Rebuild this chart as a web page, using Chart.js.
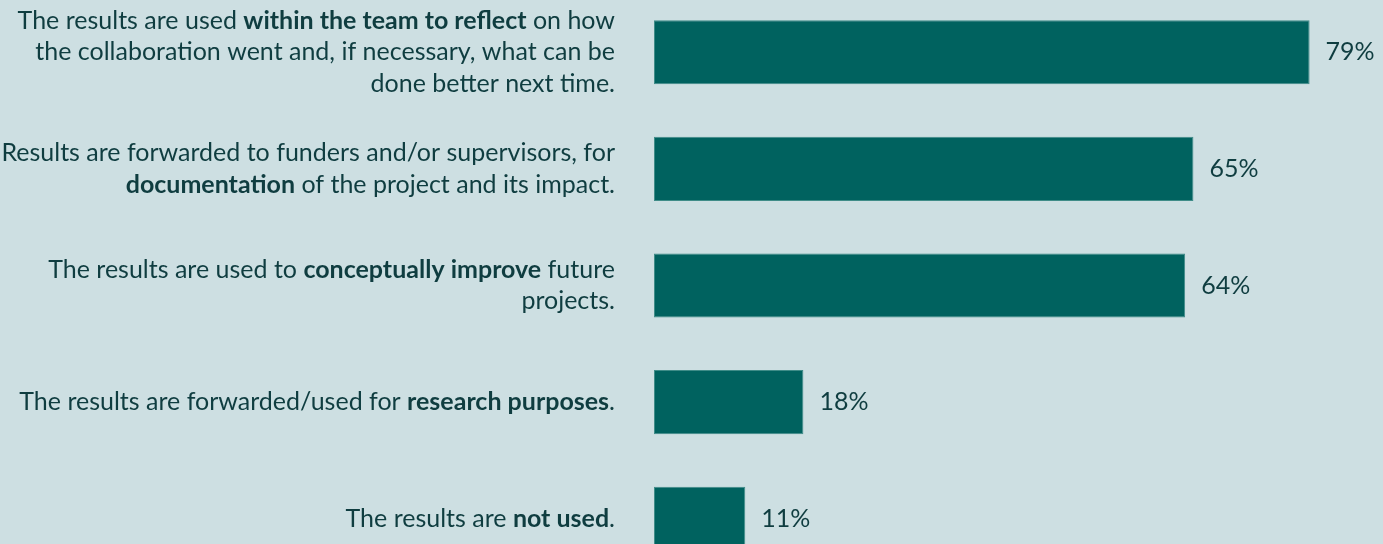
<!DOCTYPE html>
<html>
<head>
<meta charset="utf-8">
<script src="https://cdn.jsdelivr.net/npm/chart.js@4.4.0/dist/chart.umd.min.js"></script>
<style>
html,body{margin:0;padding:0;background:#cddfe2;overflow:hidden;}
#wrap{position:absolute;left:0;top:-6px;width:1383px;height:583px;}
</style>
</head>
<body>
<div id="wrap"><canvas id="myChart"></canvas></div>
<script>
// **...** marks the bold words, \n is a line break
var categories=[
    "The results are used **within the team to reflect** on how\nthe collaboration went and, if necessary, what can be\ndone better next time.",
    "Results are forwarded to funders and/or supervisors, for\n**documentation** of the project and its impact.",
    "The results are used to **conceptually improve** future\nprojects.",
    "The results are forwarded/used for **research purposes**.",
    "The results are **not used**."
];
var shares=[79,65,64,18,11];
var valueSuffix="%";

var barColor="#00625f", textColor="#0f3d40", fontName="Lato", fontSize=25;

function font(bold){
    return (bold?"bold ":"")+fontSize+"px "+fontName;
}

function splitRuns(line){
    var parts=line.split("**"), runs=[];
    for(var i=0;i<parts.length;i++){
        if(parts[i]) runs.push({t:parts[i],b:i%2==1});
    }
    return runs;
}

var richLabels={
    id:'richLabels',
    afterDraw:function(chart){
        var ctx=chart.ctx, yScale=chart.scales.y, right=615, lh=31.5;
        ctx.save();
        ctx.fillStyle=textColor;
        ctx.textBaseline='middle';
        ctx.textAlign='left';
        categories.forEach(function(cat,i){
            var lines=cat.split("\n");
            var top=yScale.getPixelForValue(i)-(lines.length-1)*lh/2;
            lines.forEach(function(line,j){
                var runs=splitRuns(line), w=0;
                runs.forEach(function(r){ctx.font=font(r.b);r.w=ctx.measureText(r.t).width;w+=r.w;});
                var x=right-w;
                runs.forEach(function(r){ctx.font=font(r.b);ctx.fillText(r.t,x,top+j*lh);x+=r.w;});
            });
        });
        // value labels next to the bars
        var meta=chart.getDatasetMeta(0);
        ctx.font=font(false);
        meta.data.forEach(function(bar,i){
            ctx.fillText(shares[i]+valueSuffix,bar.x+16,bar.y);
        });
        ctx.restore();
    }
};

var ctx=document.getElementById('myChart').getContext('2d');
var myChart=new Chart(ctx,{
    type:'bar',
    data:{
        labels:categories,
        datasets:[{
            data:shares,
            backgroundColor:barColor,
            borderColor:'#3f8c88',
            borderWidth:1,
            borderSkipped:false,
            barPercentage:0.55,
            categoryPercentage:1
        }]
    },
    options:{
        indexAxis:'y',
        responsive:true,
        maintainAspectRatio:false,
        animation:false,
        layout:{padding:{left:0,right:7,top:0,bottom:0}},
        plugins:{legend:{display:false},tooltip:{enabled:false}},
        scales:{
            x:{display:false,min:0,max:87},
            y:{
                ticks:{display:false},
                grid:{display:false},
                border:{display:false},
                afterFit:function(scale){scale.width=654;}
            }
        }
    },
    plugins:[richLabels]
});
</script>
</body>
</html>
